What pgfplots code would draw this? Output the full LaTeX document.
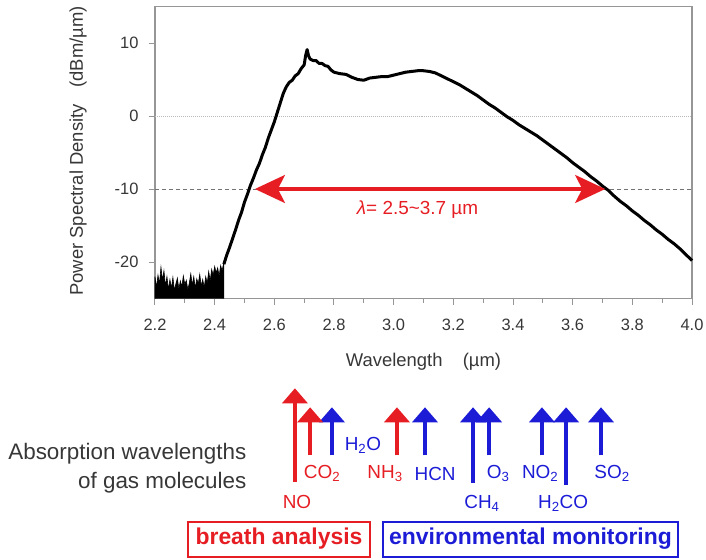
\documentclass[border=0pt]{standalone}
\usepackage{fontspec}
\setmainfont{Liberation Sans}
\usepackage{pgfplots}
\pgfplotsset{compat=1.18}
\usetikzlibrary{arrows.meta}
\definecolor{arrred}{RGB}{230,30,36}
\definecolor{arrblue}{RGB}{28,28,215}
\definecolor{framegray}{RGB}{150,150,150}
\definecolor{labgray}{RGB}{55,55,55}

\begin{document}
\begin{tikzpicture}
% fixed canvas: 706 x 560 px, axis box lower-left at the origin
\useasboundingbox (-155bp,-261.5bp) rectangle (551bp,298.5bp);
\begin{axis}[
    at={(0,0)}, anchor=south west,
    width=537bp, height=292bp, scale only axis,
    xmin=2.2, xmax=4.0, ymin=-25, ymax=15,
    xtick={2.2,2.4,2.6,2.8,3.0,3.2,3.4,3.6,3.8,4.0},
    xticklabels={2.2,2.4,2.6,2.8,3.0,3.2,3.4,3.6,3.8,4.0},
    minor xtick={2.3,2.5,2.7,2.9,3.1,3.3,3.5,3.7,3.9},
    ytick={-20,-10,0,10}, yticklabels={-20,-10,0,10},
    tick align=outside, xtick pos=bottom, ytick pos=left,
    major tick length=6bp, minor tick length=4bp,
    axis line style={framegray, line width=1.2bp},
    every tick/.style={framegray, line width=1bp},
    tick label style={font=\fontsize{16.5}{19}\selectfont, text=labgray},
    xticklabel style={yshift=-11bp},
    yticklabel style={xshift=-7bp},
    xlabel={Wavelength\hspace{1.1em}(µm)},
    ylabel={Power Spectral Density\hspace{0.9em}(dBm/µm)},
    label style={font=\fontsize{18.5}{21}\selectfont, text=labgray},
    xlabel style={at={(axis description cs:0.5,-0.218)}, anchor=center},
    ylabel style={at={(axis description cs:-0.143,0.505)}, anchor=center},
    clip=false,
]
  % reference levels
  \addplot[gray!55, densely dotted, line width=1bp] coordinates {(2.2,0)(4.0,0)};
  \addplot[gray!90!black, dash pattern=on 4bp off 3bp, line width=1bp] coordinates {(2.2,-10)(4.0,-10)};

  % noise floor below 2.43 um
  \addplot[black, fill=black, line width=0.6bp] coordinates {
    (2.200,-25)
    (2.200,-22.0)(2.205,-23.5)(2.210,-21.8)(2.215,-23.0)(2.220,-20.7)(2.225,-22.5)
    (2.230,-21.2)(2.235,-23.3)(2.240,-22.0)(2.245,-23.8)(2.250,-22.4)(2.255,-23.6)
    (2.260,-22.1)(2.265,-23.9)(2.270,-23.0)(2.275,-22.2)(2.280,-23.7)(2.285,-22.6)
    (2.290,-23.4)(2.295,-21.9)(2.300,-23.1)(2.305,-22.5)(2.310,-23.8)(2.315,-22.9)
    (2.320,-21.6)(2.325,-23.2)(2.330,-22.0)(2.335,-23.6)(2.340,-22.3)(2.345,-23.0)
    (2.350,-21.7)(2.355,-23.3)(2.360,-22.4)(2.365,-23.5)(2.370,-22.0)(2.375,-22.9)
    (2.380,-21.3)(2.385,-22.6)(2.390,-21.0)(2.395,-21.8)(2.400,-20.6)(2.405,-21.5)
    (2.410,-20.8)(2.415,-21.9)(2.420,-20.5)(2.425,-21.2)(2.431,-20.0)
    (2.431,-25)
  };

  % supercontinuum spectrum
  \addplot[black, line width=3bp, line join=round] coordinates {
    (2.431,-20.3)(2.44,-19.1)(2.45,-18.0)(2.46,-16.8)(2.47,-15.6)(2.48,-14.3)
    (2.49,-13.2)(2.50,-11.8)(2.51,-10.7)(2.52,-9.5)(2.53,-8.5)(2.54,-7.4)
    (2.55,-6.5)(2.56,-5.3)(2.57,-4.3)(2.58,-3.0)(2.59,-1.9)(2.60,-0.8)
    (2.61,0.5)(2.62,1.8)(2.63,3.1)(2.64,4.0)(2.65,4.6)(2.66,4.9)(2.67,5.5)
    (2.68,5.8)(2.69,6.5)(2.70,7.0)(2.705,8.3)(2.71,9.1)(2.715,8.2)(2.72,7.8)
    (2.73,7.6)(2.74,7.6)(2.75,7.2)(2.76,7.2)(2.77,6.9)(2.78,6.8)(2.79,6.3)
    (2.80,6.0)(2.82,5.8)(2.84,5.7)(2.86,5.3)(2.88,5.0)(2.90,4.9)(2.92,5.2)
    (2.94,5.3)(2.96,5.4)(2.98,5.4)(3.00,5.6)(3.02,5.8)(3.04,6.0)(3.06,6.1)
    (3.08,6.2)(3.10,6.2)(3.12,6.1)(3.14,5.9)(3.16,5.5)(3.18,5.1)(3.20,4.7)
    (3.22,4.3)(3.24,3.8)(3.26,3.3)(3.28,2.8)(3.30,2.2)(3.32,1.6)(3.34,1.1)
    (3.36,0.5)(3.38,-0.1)(3.40,-0.6)(3.42,-1.2)(3.44,-1.7)(3.46,-2.2)
    (3.48,-2.7)(3.50,-3.3)(3.52,-3.9)(3.54,-4.5)(3.56,-5.1)(3.58,-5.7)
    (3.60,-6.4)(3.62,-7.0)(3.64,-7.6)(3.66,-8.3)(3.68,-8.9)(3.70,-9.6)
    (3.72,-10.2)(3.74,-11.0)(3.76,-11.7)(3.78,-12.3)(3.80,-13.0)(3.82,-13.6)
    (3.84,-14.3)(3.86,-14.9)(3.88,-15.6)(3.90,-16.2)(3.92,-16.9)(3.94,-17.5)
    (3.96,-18.2)(3.98,-19.0)(3.99,-19.4)(4.00,-19.8)
  };

  % bandwidth at -10 dBm/um
  \addplot[arrred, line width=3.2bp,
    {Stealth[length=30bp,width=28bp,inset=7bp]}-{Stealth[length=30bp,width=28bp,inset=7bp]}]
    coordinates {(2.535,-10)(3.709,-10)};
  \node[arrred, font=\fontsize{19}{22}\selectfont] at (axis cs:3.080,-12.8)
    {\textit{λ}= 2.5\textasciitilde 3.7 µm};

  % absorption lines of gas molecules
  \addplot[arrblue, line width=3.5bp, -{Triangle[length=15bp,width=25bp]},
    quiver={u=0, v=\thisrow{v}}] table {
    x y v
    2.793 -46.5 6.6
    3.105 -46.5 6.6
    3.266 -50.3 10.4
    3.320 -46.5 6.6
    3.497 -46.5 6.6
    3.578 -50.6 10.7
    3.695 -46.5 6.6
  };
  \addplot[arrred, line width=3.5bp, -{Triangle[length=15bp,width=25bp]},
    quiver={u=0, v=\thisrow{v}}] table {
    x y v
    2.669 -50.2 12.9
    2.720 -46.5 6.6
    3.011 -46.5 6.6
  };

  \begin{scope}[font=\fontsize{19}{22}\selectfont]
    \node[arrred]  at (axis cs:2.676,-52.9) {NO};
    \node[arrred]  at (axis cs:2.760,-49.0) {CO\textsubscript{2}};
    \node[arrblue] at (axis cs:2.897,-45.1) {H\textsubscript{2}O};
    \node[arrred]  at (axis cs:2.971,-49.0) {NH\textsubscript{3}};
    \node[arrblue] at (axis cs:3.139,-49.0) {HCN};
    \node[arrblue] at (axis cs:3.296,-53.1) {CH\textsubscript{4}};
    \node[arrblue] at (axis cs:3.350,-49.0) {O\textsubscript{3}};
    \node[arrblue] at (axis cs:3.491,-49.0) {NO\textsubscript{2}};
    \node[arrblue] at (axis cs:3.568,-53.1) {H\textsubscript{2}CO};
    \node[arrblue] at (axis cs:3.732,-49.0) {SO\textsubscript{2}};
  \end{scope}

  \node[anchor=east, align=right, text=labgray, font=\fontsize{22.5}{29}\selectfont]
    at (axis cs:2.518,-48.2) {Absorption wavelengths\\of gas molecules};

  \node[draw=arrred, line width=2bp, text=arrred, inner sep=0pt,
    minimum width=182bp, minimum height=35bp,
    font=\bfseries\fontsize{23}{26}\selectfont]
    at (axis cs:2.6157,-57.95) {breath analysis};
  \node[draw=arrblue, line width=2bp, text=arrblue, inner sep=0pt,
    minimum width=295bp, minimum height=35bp,
    font=\bfseries\fontsize{23}{26}\selectfont]
    at (axis cs:3.4588,-57.95) {environmental monitoring};
\end{axis}
\end{tikzpicture}
\end{document}
